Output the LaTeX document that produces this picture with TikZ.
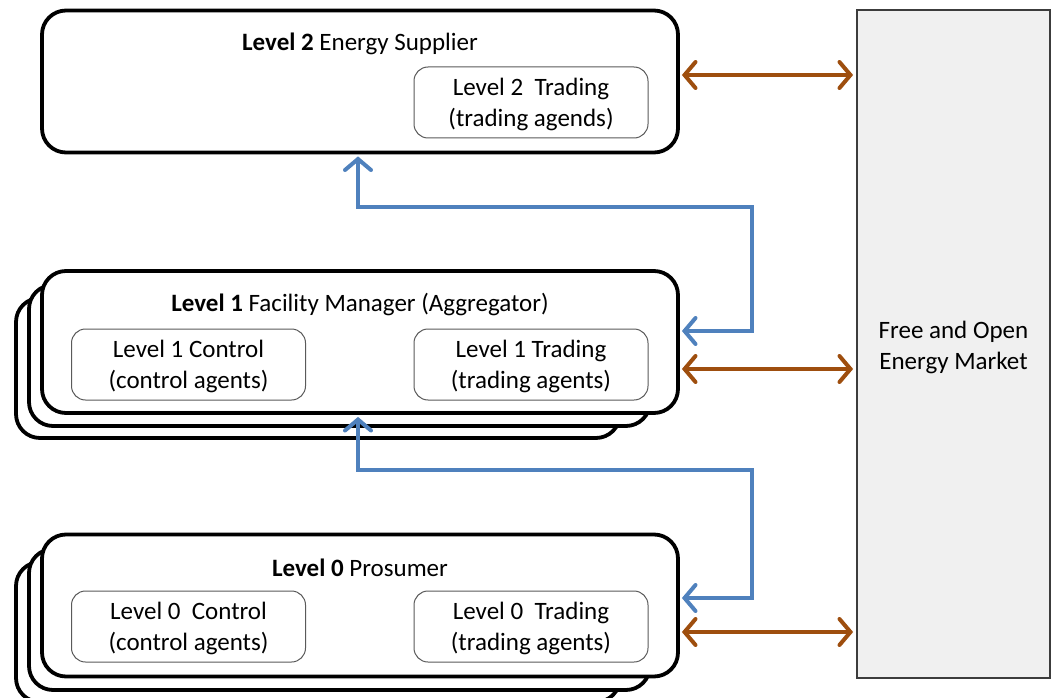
\documentclass[tikz,border=0pt]{standalone}
\usepackage{fontspec}
\setmainfont{Carlito}
\usetikzlibrary{arrows.meta}
\definecolor{blueline}{RGB}{79,129,189}
\definecolor{brownline}{RGB}{158,78,14}
\definecolor{mktfill}{RGB}{240,240,240}
\definecolor{mktline}{RGB}{60,60,60}
\definecolor{inline}{RGB}{90,90,90}
\newcommand{\lowstrut}{\rule{0pt}{22pt}}
\tikzset{
  bigbox/.style={draw=black,line width=3.8pt,fill=white,rounded corners=24pt,minimum width=636pt,minimum height=142pt,inner sep=0pt},
  copybox/.style={draw=black,line width=3.8pt,fill=white,rounded corners=24pt},
  inbox/.style={draw=inline,line width=1pt,fill=white,rounded corners=14pt,minimum width=234pt,minimum height=71pt,align=center,inner sep=0pt,font=\fontsize{25}{31}\selectfont},
  titletext/.style={font=\fontsize{25}{30}\selectfont,inner sep=0pt},
  mkt/.style={draw=mktline,line width=1.8pt,fill=mktfill,minimum width=193pt,minimum height=668pt,align=center,inner sep=0pt,font=\fontsize{25}{31}\selectfont},
  tip/.tip={Straight Barb[length=11pt,width=26pt,line cap=round]},
  blarr/.style={draw=blueline,line width=4pt,tip-tip},
  brarr/.style={draw=brownline,line width=4pt,tip-tip}
}
\begin{document}
\begin{tikzpicture}[x=1pt,y=-1pt]
\useasboundingbox (0,0) rectangle (1052,698);
\clip (0,0) rectangle (1052,698);
% market
\node[mkt] (M) at (953.5,344) {\rule{0pt}{24pt}Free and Open\\Energy Market};
% Level 2
\node[bigbox] (L2) at (360,81.5) {};
\node[titletext] (L2t) at (360,44) {\textbf{Level 2} Energy Supplier};
\node[inbox] (L2tr) at (531,102.5) {\lowstrut Level 2\ \ Trading\\(trading agends)};
% Level 1 stack
\draw[copybox] (16,298) rectangle (620,438);
\draw[copybox] (29,285) rectangle (650,426);
\node[bigbox] (L1) at (360,342) {};
\node[titletext] (L1t) at (360,305) {\textbf{Level 1} Facility Manager (Aggregator)};
\node[inbox] (L1c) at (188.5,364.5) {\lowstrut Level 1 Control\\(control agents)};
\node[inbox] (L1tr) at (531,364.5) {\lowstrut Level 1 Trading\\(trading agents)};
% Level 0 stack
\draw[copybox] (16,562) rectangle (620,702);
\draw[copybox] (29,549) rectangle (650,690);
\node[bigbox] (L0) at (360,605.5) {};
\node[titletext] (L0t) at (360,568) {\textbf{Level 0} Prosumer};
\node[inbox] (L0c) at (188.5,626.5) {\lowstrut Level 0\ \ Control\\(control agents)};
\node[inbox] (L0tr) at (531,626.5) {\lowstrut Level 0\ \ Trading\\(trading agents)};
% brown arrows
\coordinate (b2) at ([yshift=6.5pt,xshift=2pt]L2.east);
\coordinate (b1) at ([yshift=-27pt,xshift=2pt]L1.east);
\coordinate (b0) at ([yshift=-26.5pt,xshift=2pt]L0.east);
\draw[brarr] (b2) -- ([xshift=-3pt]b2 -| M.west);
\draw[brarr] (b1) -- ([xshift=-3pt]b1 -| M.west);
\draw[brarr] (b0) -- ([xshift=-3pt]b0 -| M.west);
% blue arrows
\coordinate (u1) at ([yshift=11pt,xshift=2pt]L1.east);
\coordinate (k1) at (752,207);
\coordinate (d2) at ([xshift=-2pt,yshift=-2pt]L2.south);
\draw[blarr] (u1) -| (k1) -| (d2);
\coordinate (u0) at ([yshift=7.5pt,xshift=2pt]L0.east);
\coordinate (k0) at (752,470);
\coordinate (d1) at ([xshift=-2pt,yshift=-2pt]L1.south);
\draw[blarr] (u0) -| (k0) -| (d1);
\end{tikzpicture}
\end{document}
